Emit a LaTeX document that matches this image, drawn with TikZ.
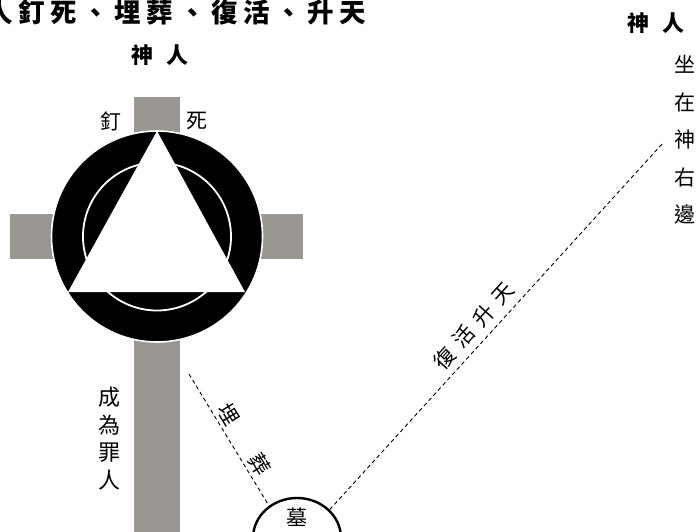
\documentclass[tikz,border=0pt]{standalone}
\usepackage{fontspec}
\setmainfont{Noto Sans CJK TC}
\newfontfamily\titlefont[LetterSpace=21]{Noto Sans CJK TC}
\newfontfamily\slopefont[LetterSpace=38]{Noto Sans CJK TC}
\usetikzlibrary{shapes.geometric, positioning}
\definecolor{crossgray}{RGB}{154,150,145}

\begin{document}
\begin{tikzpicture}[x=1pt, y=-1pt,
	word/.style={inner sep=0pt, font=\fontsize{21}{21}\selectfont},
	column/.style={inner sep=0pt, align=center},
	trail/.style={dash pattern=on 4pt off 3pt, line width=0.9pt}]
	
	\useasboundingbox (0,0) rectangle (698,532);
	
	% Cross
	\fill [crossgray] (10,214) rectangle (303,259);
	\fill [crossgray] (134,97) rectangle (180,545);
	
	% Circle and triangle
	\coordinate (centre) at (157,236.5);
	\fill [black, draw=white, line width=1.6pt] (centre) circle (105.5pt);
	\draw [white, line width=1.8pt] (centre) circle (74pt);
	\fill [white] (157,131) -- (68,292) -- (245,292) -- cycle;
	
	% Nodes
	\node [draw, ellipse, line width=2.4pt, fill=white, minimum width=88pt, minimum height=80pt] (tomb) at (297,538) {};
	\node [word] (tombtext) at (297,517) {墓};
	\coordinate (burialtop) at (189,374);
	\coordinate (ascendtop) at (663,143);
	
	% Lines
	\draw [trail] (burialtop) -- node [word, pos=0.36, sloped, above=4pt] (burylabel) {埋} node [word, pos=0.74, sloped, above=4pt] (burylabeltwo) {葬} (tomb.131);
	\draw [trail] (tomb.41) -- node [inner sep=0pt, pos=0.47, sloped, above=7pt, font=\fontsize{21}{21}\slopefont] (ascendlabel) {復活升天} (ascendtop);
	
	% Labels
	\node [inner sep=0pt, anchor=west, font=\fontsize{26.5}{26.5}\titlefont\bfseries] (title) at (-13.5,12) {人釘死、埋葬、復活、升天};
	\node [inner sep=0pt, font=\fontsize{22}{22}\selectfont\bfseries] (godman) at (160,55) {神\hspace{0.55em}人};
	\node [inner sep=0pt, font=\fontsize{22}{22}\selectfont\bfseries] (godmanright) at (656,23) {神\hspace{0.55em}人};
	\node [word] (nail) at (111,121) {釘};
	\node [word] (death) at (197,121) {死};
	\node [column, font=\fontsize{22}{27.7}\selectfont] (sinner) at (109,438.5) {成\\為\\罪\\人};
	\node [column, font=\fontsize{21}{37.5}\selectfont] (seated) at (685,140) {坐\\在\\神\\右\\邊};
	
\end{tikzpicture}
\end{document}
